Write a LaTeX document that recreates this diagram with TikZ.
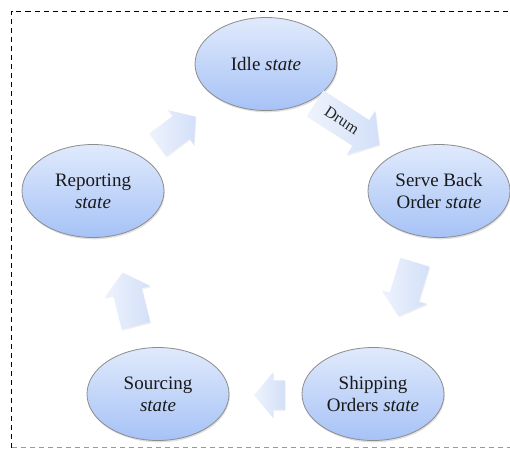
\documentclass[tikz,border=0pt]{standalone}
\usepackage{fontspec}
\setmainfont{Liberation Serif}
\usetikzlibrary{shapes.geometric,shapes.arrows,shadows}
\definecolor{ctop}{HTML}{E0EAFC}
\definecolor{cbot}{HTML}{A6C2F6}
\definecolor{atail}{HTML}{EEF3FD}
\definecolor{ahead}{HTML}{D3E0F8}
\begin{document}
\begin{tikzpicture}[x=1pt,y=-1pt,
  state/.style={ellipse, draw=black!45, line width=0.8pt, top color=ctop, bottom color=cbot,
    minimum width=142pt, minimum height=93pt, inner sep=0pt, align=center,
    font=\fontsize{19}{22}\selectfont, text=black!90,
    drop shadow={opacity=0.25, shadow xshift=0.8pt, shadow yshift=-1.8pt}},
  barrow/.style n args={4}{single arrow, single arrow tip angle=100, anchor=tail,
    rotate=#1, inner xsep=#2, inner ysep=#3, single arrow head extend=#4,
    minimum width=0pt, minimum height=0pt, left color=atail, right color=ahead,
    drop shadow={opacity=0.12, shadow xshift=0.8pt, shadow yshift=-1.2pt},
    font=\fontsize{16}{17}\selectfont, text=black!85}]
\useasboundingbox (0,0) rectangle (510,449);
% frame
\draw[line width=0.9pt, dash pattern=on 5pt off 4pt] (11.5,447.5) -- (11.5,11.5) -- (515,11.5);
\draw[line width=0.9pt, black!40, dash pattern=on 5pt off 4pt] (11.5,447.5) -- (515,447.5);
% states
\node[state] (idle) at (266,64) {Idle \textit{state}};
\node[state] (serve) at (439,191) {Serve Back\\Order \textit{state}};
\node[state] (ship) at (373,394) {Shipping\\Orders \textit{state}};
\node[state] (src) at (158,394) {Sourcing\\\textit{state}};
\node[state] (rep) at (93,191) {Reporting\\\textit{state}};
% block arrows
\node[barrow={-33}{13pt}{9.7pt}{11pt}] (a1) at (315,103) {Drum};
\node[barrow={-107}{21.6pt}{15pt}{8.5pt}] (a2) at (415,262) {};
\node[barrow={180}{9pt}{14.5pt}{8pt}] (a3) at (285,395) {};
\node[barrow={104}{21.1pt}{14.5pt}{9pt}] (a4) at (136,326) {};
\node[barrow={36.6}{17.5pt}{14pt}{7.5pt}] (a5) at (157.5,145) {};
\end{tikzpicture}
\end{document}
